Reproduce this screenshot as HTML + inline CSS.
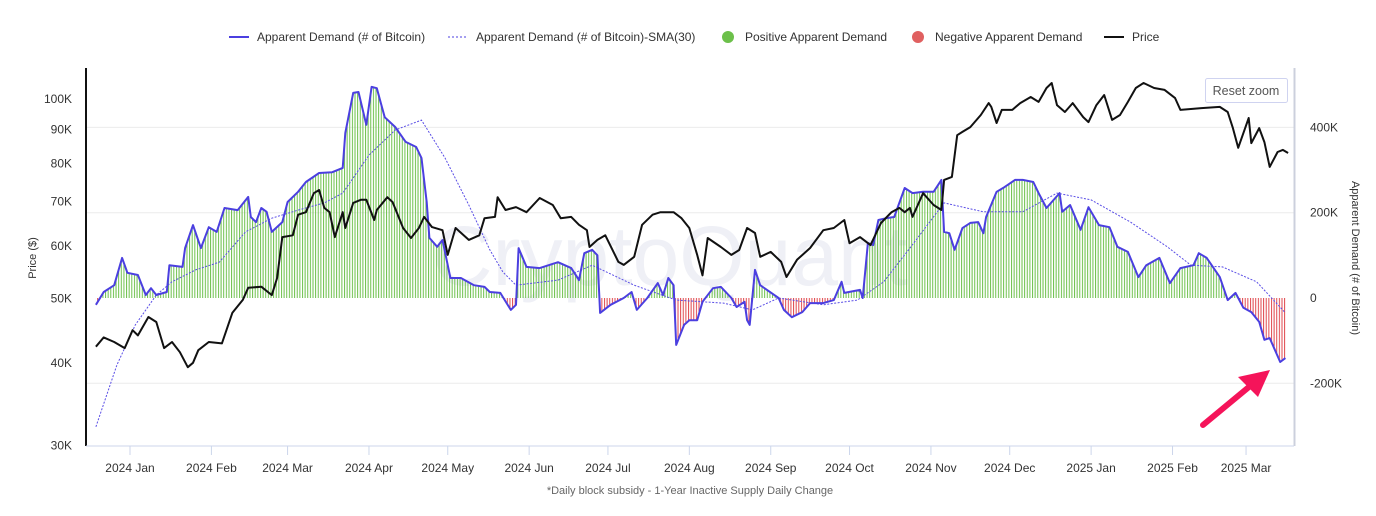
<!DOCTYPE html>
<html><head><meta charset="utf-8"><style>
body{margin:0;background:#fff;font-family:"Liberation Sans",sans-serif;}
svg text{font-family:"Liberation Sans",sans-serif;}
</style></head><body>
<svg id="chart" width="1376" height="511" xmlns="http://www.w3.org/2000/svg">
<defs>
<pattern id="gpat" patternUnits="userSpaceOnUse" width="2.626" height="10"><rect x="0" y="0" width="1" height="10" fill="#6cc04a"/></pattern>
<pattern id="rpat" patternUnits="userSpaceOnUse" width="2.626" height="10"><rect x="0" y="0" width="1" height="10" fill="#e0474c"/></pattern>
<clipPath id="posClip"><rect x="86" y="60" width="1210" height="238"/></clipPath>
<clipPath id="negClip"><rect x="86" y="298" width="1210" height="150"/></clipPath>
</defs>
<rect width="1376" height="511" fill="#fff"/>
<g id="legend" font-size="12" fill="#333">
 <g><line x1="229" y1="37" x2="249" y2="37" stroke="#4b3fe0" stroke-width="2"/><text x="257" y="41">Apparent Demand (# of Bitcoin)</text></g>
 <g><line x1="448" y1="37" x2="468" y2="37" stroke="#4b3fe0" stroke-width="1" stroke-dasharray="2,2"/><text x="476" y="41">Apparent Demand (# of Bitcoin)-SMA(30)</text></g>
 <g><circle cx="728" cy="37" r="6" fill="#6cc04a"/><text x="745" y="41">Positive Apparent Demand</text></g>
 <g><circle cx="918" cy="37" r="6" fill="#e06060"/><text x="935" y="41">Negative Apparent Demand</text></g>
 <g><line x1="1104" y1="37" x2="1124" y2="37" stroke="#111" stroke-width="2"/><text x="1132" y="41">Price</text></g>
</g>
<text x="670" y="285" font-size="84" fill="#eff0f6" text-anchor="middle">CryptoQuant</text>
<g id="grid"></g>
<g id="bars"></g>
<g id="lines"></g>
<g id="axes"></g>
<line x1="86" y1="68" x2="86" y2="446" stroke="#111" stroke-width="2"/>
<line x1="1294.5" y1="68" x2="1294.5" y2="446" stroke="#ccd0dd" stroke-width="2"/>
<line x1="86" y1="446" x2="1294" y2="446" stroke="#ccd6eb" stroke-width="1"/>
<text transform="translate(36,258) rotate(-90)" font-size="11" fill="#333" text-anchor="middle">Price ($)</text>
<text transform="translate(1352,258) rotate(90)" font-size="11" fill="#333" text-anchor="middle">Apparent Demand (# of Bitcoin)</text>
<text x="690" y="494" font-size="11" fill="#666" text-anchor="middle">*Daily block subsidy - 1-Year Inactive Supply Daily Change</text>
<g><rect x="1205.5" y="78.5" width="82" height="24" fill="#fff" stroke="#cfd3f0" rx="2"/><text x="1246" y="95" font-size="12.5" fill="#555" text-anchor="middle">Reset zoom</text></g>
<g><line x1="1203" y1="425" x2="1255" y2="382" stroke="#f5145a" stroke-width="6" stroke-linecap="round"/><polygon points="1270,370 1238,377 1258,397" fill="#f5145a"/></g>
</svg>
<script>
// days since 2024-01-01
const demandDays=[-13,-10,-6,-3,-1,3,6,8,10,14,15,20,21,24,27,30,33,36,41,45,46,48,50,52,54,58,60,64,67,72,77,81,82,85,87,90,92,94,97,101,105,109,111,113,114,117,119,122,126,131,135,137,141,145,147,148,151,156,163,168,171,173,176,178,179,183,188,191,193,197,201,203,205,207,208,211,213,216,218,222,225,229,231,234,235,236,238,240,247,249,252,256,259,264,268,271,272,278,279,281,283,285,288,291,295,298,302,306,309,310,312,314,317,320,323,325,326,330,333,337,340,344,346,349,354,355,358,362,365,369,373,376,380,384,387,392,396,400,405,407,410,415,418,421,424,427,430,432,434,438,440];
const demandVals=[-16,14,30,94,59,54,7,23,7,14,77,73,117,171,117,166,155,211,206,237,190,178,211,202,155,178,225,249,272,293,295,305,387,481,483,406,495,492,424,401,366,354,328,225,141,120,136,47,47,30,26,14,12,-28,-16,117,73,70,84,70,42,105,113,100,-35,-16,0,14,-28,0,35,7,47,30,-110,-63,-52,-52,-9,23,26,0,-21,-9,-52,-63,66,30,0,-28,-45,-33,-12,-12,-5,38,12,19,0,129,124,183,187,190,258,246,249,249,277,155,152,113,164,176,178,152,190,249,260,277,277,272,246,211,246,202,218,160,213,171,166,120,108,49,77,94,35,70,77,105,94,49,-5,12,-23,-33,-56,-98,-94,-150,-141];
const smaDays=[-13,-5,2,10,16,25,34,44,54,64,74,81,91,101,111,120,129,137,142,147,163,176,192,208,226,237,247,264,277,287,297,310,325,340,353,366,381,395,404,416,429,440];
const smaVals=[-302,-157,-63,7,38,66,84,155,187,206,223,246,335,394,417,328,218,113,61,30,42,77,30,-5,-12,-28,0,-16,-5,38,117,223,202,202,246,230,178,120,77,73,38,-35];
const priceDays=[-13,-10,-6,-2,1,3,7,10,13,16,19,22,24,26,30,35,39,43,45,50,54,56,58,62,64,67,70,72,74,76,78,81,82,85,88,90,93,94,98,100,104,107,110,112,115,119,121,124,129,133,135,139,140,143,147,151,156,161,164,168,171,174,175,178,181,186,188,192,195,199,202,207,210,213,216,218,220,225,229,232,235,238,240,244,248,250,254,259,264,268,272,274,278,282,286,290,293,295,297,298,302,306,309,310,313,315,317,320,324,327,328,330,332,336,339,343,346,349,351,353,356,359,363,365,368,371,374,377,380,383,386,390,394,398,400,408,415,418,420,422,426,427,430,432,434,437,439,441];
const priceVals=[42.3,43.7,43.0,42.1,44.8,44.0,46.9,46.1,42.1,43.0,41.5,39.4,40.0,41.8,43.0,42.8,47.6,49.8,51.9,52.1,50.6,53.7,61.9,62.3,66.9,67.5,72.1,72.9,68.5,67.5,61.9,67.5,63.9,69.7,70.5,70.5,65.7,68.0,71.1,69.9,63.9,61.7,63.9,66.4,64.1,63.4,58.2,63.9,61.3,62.3,66.1,66.4,71.1,68.0,68.7,67.5,70.9,69.2,66.1,66.4,64.6,63.4,59.8,61.3,62.3,56.8,56.2,57.8,64.6,66.9,67.5,67.5,66.1,63.9,58.2,54.2,61.7,59.8,58.2,59.2,63.9,62.8,57.8,58.8,56.8,53.9,57.2,59.6,63.4,63.9,65.7,60.6,61.9,60.2,65.0,67.5,68.5,67.5,68.5,66.4,72.1,69.2,68.0,75.5,76.3,88.2,89.2,90.7,94.6,98.6,97.3,92.0,96.3,96.3,98.6,100.7,99.0,103.9,105.7,97.9,95.6,98.6,93.9,92.3,97.9,101.4,93.0,94.6,99.0,103.9,105.7,103.9,103.2,100.3,96.3,96.9,97.3,95.6,90.4,84.4,93.6,85.8,90.4,86.1,79.0,83.2,83.8,82.9];
const priceTicks=[100,90,80,70,60,50,40,30];
const priceTickLabels=["100K","90K","80K","70K","60K","50K","40K","30K"];
const demandTicks=[400,200,0,-200];
const demandTickLabels=["400K","200K","0","-200K"];
const monthDays=[0,31,60,91,121,152,182,213,244,274,305,335,366,397,425];
const monthLabels=["2024 Jan","2024 Feb","2024 Mar","2024 Apr","2024 May","2024 Jun","2024 Jul","2024 Aug","2024 Sep","2024 Oct","2024 Nov","2024 Dec","2025 Jan","2025 Feb","2025 Mar"];

const NS="http://www.w3.org/2000/svg";
const xS=d=>130+d*2.626;
const pY=p=>99-663*Math.log10(p/100);
const dY=v=>298-v*85.3/200;
function mk(tag,attrs,parent){const e=document.createElementNS(NS,tag);for(const k in attrs)e.setAttribute(k,attrs[k]);parent.appendChild(e);return e;}
const grid=document.getElementById('grid'),bars=document.getElementById('bars'),lines=document.getElementById('lines'),axes=document.getElementById('axes');

demandTicks.forEach((t,i)=>{
  if(t!==0){const g=mk('line',{x1:86,x2:1294,y1:dY(t),y2:dY(t),stroke:'#ececec','stroke-width':1},grid);
  
  }
  const tx=mk('text',{x:1310,y:dY(t)+4,'font-size':12,fill:'#333'},axes);tx.textContent=demandTickLabels[i];
  
  
});
priceTicks.forEach((t,i)=>{
  const tx=mk('text',{x:72,y:pY(t)+4,'font-size':12,fill:'#333','text-anchor':'end'},axes);tx.textContent=priceTickLabels[i];
  
  
});
monthDays.forEach((d,i)=>{
  const x=xS(d);
  const tk=mk('line',{x1:x,x2:x,y1:446,y2:455,stroke:'#ccd6eb'},axes);
  
  
  const tx=mk('text',{x:x,y:472,'font-size':12,fill:'#333','text-anchor':'middle'},axes);tx.textContent=monthLabels[i];
  
  
});
// area bars
let area='M'+xS(demandDays[0])+','+dY(0);
demandDays.forEach((d,i)=>{area+=' L'+xS(d)+','+dY(demandVals[i]);});
area+=' L'+xS(demandDays[demandDays.length-1])+','+dY(0)+' Z';
const pa=mk('path',{d:area,fill:'url(#gpat)','clip-path':'url(#posClip)'},bars);


const na=mk('path',{d:area,fill:'url(#rpat)','clip-path':'url(#negClip)'},bars);


function pl(days,vals,fy){return days.map((d,i)=>xS(d).toFixed(1)+','+fy(vals[i]).toFixed(1)).join(' ');}
const sma=mk('polyline',{points:pl(smaDays,smaVals,dY),fill:'none',stroke:'#5a4ee6','stroke-width':1,'stroke-dasharray':'2,1.5'},lines);


const dl=mk('polyline',{points:pl(demandDays,demandVals,dY),fill:'none',stroke:'#4b3fe0','stroke-width':2,'stroke-linejoin':'round'},lines);


const pr=mk('polyline',{points:pl(priceDays,priceVals,pY),fill:'none',stroke:'#111','stroke-width':2,'stroke-linejoin':'round'},lines);


</script>
</body></html>
